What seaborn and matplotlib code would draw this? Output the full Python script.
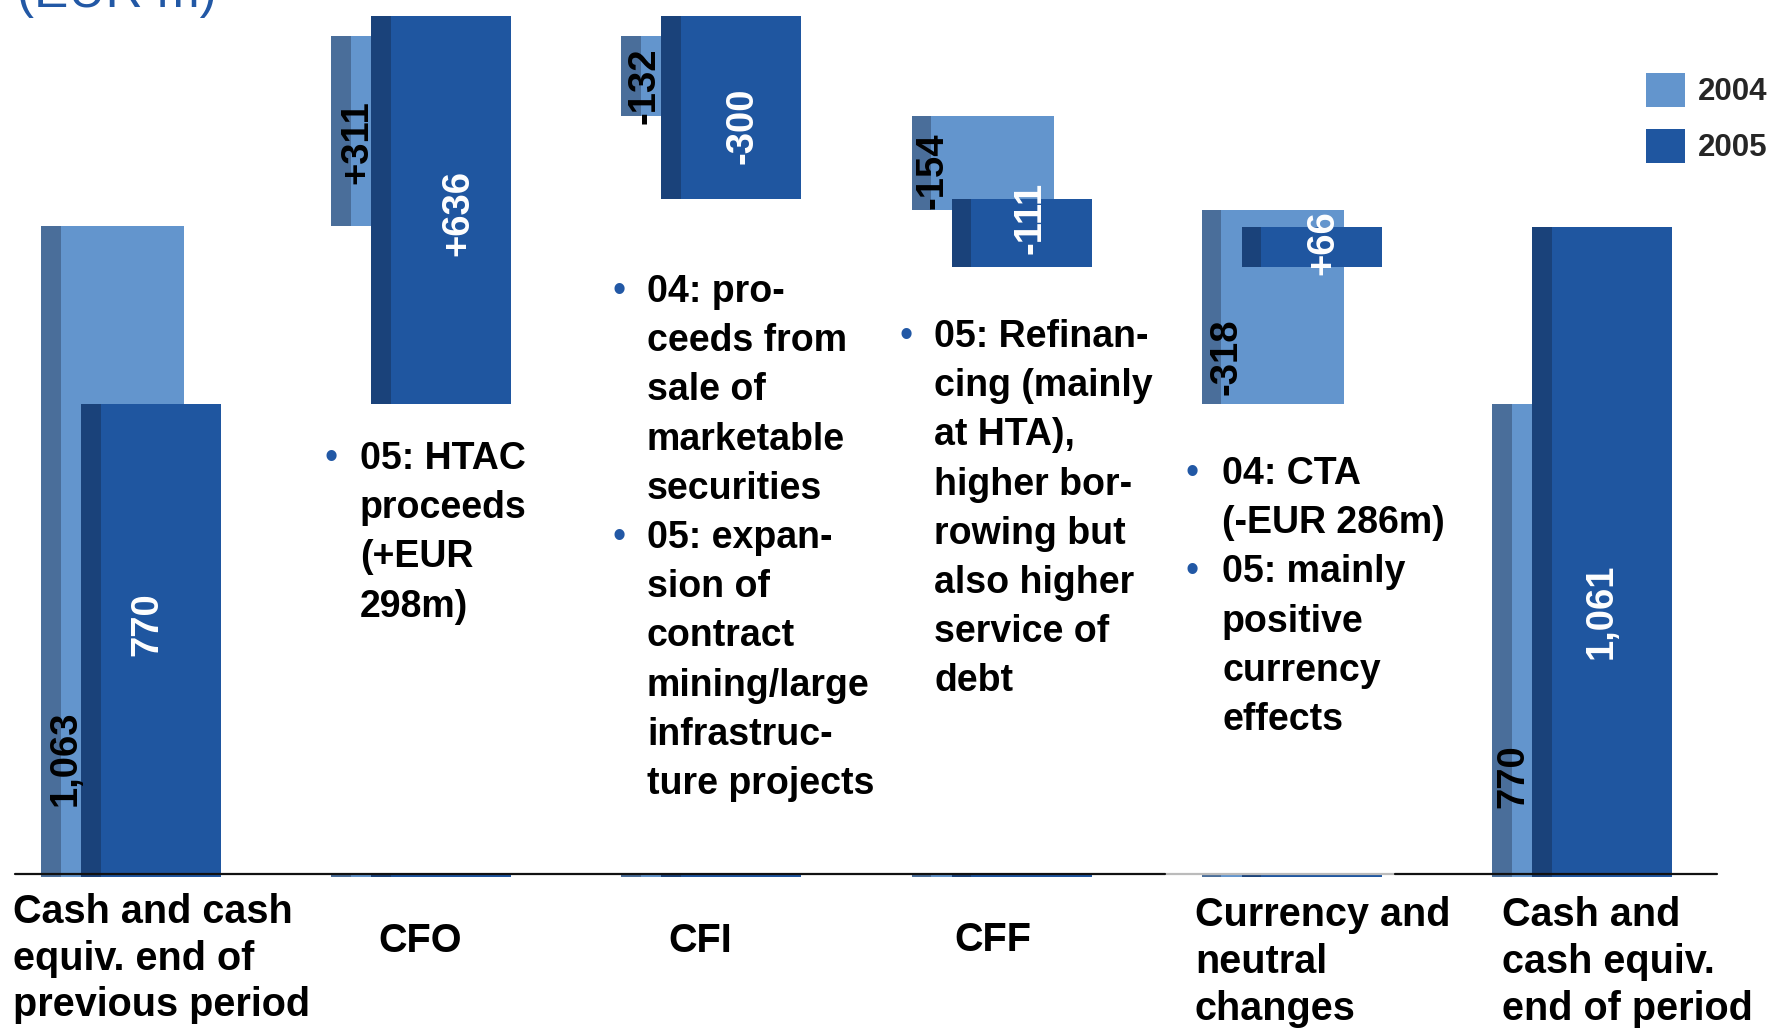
import numpy as np
import pandas as pd
import matplotlib
matplotlib.use("Agg")
import matplotlib.pyplot as plt
import seaborn as sns
from matplotlib.patches import Patch

# %%
# data
categories = ["Cash and cash\nequiv. end of\nprevious period", "CFO", "CFI", "CFF",
              "Currency and\nneutral\nchanges", "Cash and\ncash equiv.\nend of period"]
series = ["2004", "2005"]
vals_2004 = [1063, 311, -132, -154, -318, 770]
vals_2005 = [770, 636, -300, -111, 66, 1061]
labels_2004 = ["1,063", "+311", "-132", "-154", "-318", "770"]
labels_2005 = ["770", "+636", "-300", "-111", "+66", "1,061"]

note_cfo = ["• 05: HTAC", "proceeds", "(+EUR", "298m)"]
note_cfi = ["• 04: pro-", "ceeds from", "sale of", "marketable", "securities",
            "• 05: expan-", "sion of", "contract", "mining/large", "infrastruc-", "ture projects"]
note_cff = ["• 05: Refinan-", "cing (mainly", "at HTA),", "higher bor-", "rowing but",
            "also higher", "service of", "debt"]
note_fx = ["• 04: CTA", "(-EUR 286m)", "• 05: mainly", "positive", "currency", "effects"]

# %%
# layout (pixels of the 1774x1028 picture)
PX_W, PX_H = 1774, 1028
BASE_PX, UNIT_PX = 874, 0.61     # baseline row, pixels per EUR m
LEFT_PX, PITCH_PX = 41, 290.2    # left edge of first group, group pitch

c04, d04 = "#6395CD", "#4A6E9A"
c05, d05 = "#1F56A0", "#1A427A"
blue = "#2258A5"

w04 = 142.5 / PITCH_PX
w05 = 140 / PITCH_PX
off05 = 40 / PITCH_PX
strip = 19.5 / PITCH_PX


def waterfall(vals):
    run = vals[0]
    bottoms = [0]
    for v in vals[1:-1]:
        bottoms.append(run)
        run += v
    bottoms.append(0)
    return bottoms


def px2data(px, py):
    return (px - LEFT_PX) / PITCH_PX, (BASE_PX - py) / UNIT_PX


sns.set_theme(style="white")
plt.rcParams['font.family'] = ['Liberation Sans', 'DejaVu Sans']

fig = plt.figure(figsize=(PX_W / 100, PX_H / 100), dpi=100)
ax = fig.add_axes([0, 0, 1, 1])

idx = np.arange(len(categories))


def draw_bars(left, w, heights, bottoms, color, dark):
    df = pd.DataFrame({"x": left + w / 2, "y": heights})
    sns.barplot(data=df, x="x", y="y", native_scale=True, width=w, color=color,
                saturation=1, errorbar=None, linewidth=0, bottom=bottoms, ax=ax, orient="x")
    df = pd.DataFrame({"x": left + strip / 2, "y": heights})
    sns.barplot(data=df, x="x", y="y", native_scale=True, width=strip, color=dark,
                saturation=1, errorbar=None, linewidth=0, bottom=bottoms, ax=ax, orient="x")


# thin slivers under the base line
sliver = [-4.5] * len(categories)
draw_bars(idx.astype(float), w04, sliver, [0] * len(categories), c04, d04)
draw_bars(idx + off05, w05, sliver, [0] * len(categories), c05, d05)

draw_bars(idx.astype(float), w04, vals_2004, waterfall(vals_2004), c04, d04)
draw_bars(idx + off05, w05, vals_2005, waterfall(vals_2005), c05, d05)

# base line
x0, _ = px2data(15, 0)
xa, _ = px2data(1165, 0)
xb, _ = px2data(1395, 0)
x1, _ = px2data(1717, 0)
ax.plot([x0, xa], [0, 0], color="#111111", lw=1.6, zorder=5)
ax.plot([xa, xb], [0, 0], color="#BBBBBB", lw=1.6, zorder=1)
ax.plot([xb, x1], [0, 0], color="#111111", lw=1.6, zorder=5)

# value labels
lab04_px = [(66, 758), (357, 142), (645, 86), (933, 171), (1227, 357), (1513, 776)]
lab05_px = [(147, 624), (458, 213), (742, 126), (1030, 218), (1323, 243), (1602, 611)]
for txt, (px, py) in zip(labels_2004, lab04_px):
    ax.text(*px2data(px, py), txt, rotation=90, ha="center", va="center",
            fontsize=27.5, fontweight="bold", color="black", zorder=6)
for txt, (px, py) in zip(labels_2005, lab05_px):
    ax.text(*px2data(px, py), txt, rotation=90, ha="center", va="center",
            fontsize=27.5, fontweight="bold", color="white", zorder=6)

ax.set_xlim(-LEFT_PX / PITCH_PX, (PX_W - LEFT_PX) / PITCH_PX)
ax.set_ylim(-(PX_H - BASE_PX) / UNIT_PX, BASE_PX / UNIT_PX)
ax.axis("off")


def fig_xy(px, py):
    return px / PX_W, 1 - py / PX_H


# notes with bullets
note_step = 49.2
for lines, (bx, tx, y0) in zip([note_cfo, note_cfi, note_cff, note_fx],
                               [(331.5, 360, 469), (619, 647, 302), (906, 934.5, 347), (1192.5, 1222, 484)]):
    for k, line in enumerate(lines):
        y = y0 + k * note_step
        if line.startswith("• "):
            fig.text(*fig_xy(bx, y), "•", ha="center", va="baseline", fontsize=27, color=blue)
            line = line[2:]
        fig.text(*fig_xy(tx, y), line, ha="left", va="baseline", fontsize=27,
                 fontweight="bold", color="black")

# category labels
cat_step = 46.7
cat_pos = [(13, "left", 923), (420, "center", 952), (700, "center", 952),
           (993, "center", 951), (1195, "left", 926.5), (1502.5, "left", 926.5)]
for name, (px, ha, y0) in zip(categories, cat_pos):
    for k, line in enumerate(name.split("\n")):
        fig.text(*fig_xy(px, y0 + k * cat_step), line, ha=ha, va="baseline",
                 fontsize=28.5, fontweight="bold", color="black")

# title, cut at the top edge
fig.text(*fig_xy(17, 7.5), "(EUR m)", ha="left", va="baseline", fontsize=37, color=blue)

# legend
fs = 22.5 * 100 / 72
handles = [Patch(facecolor=c04, edgecolor="none"), Patch(facecolor=c05, edgecolor="none")]
ax.legend(handles, series, loc="upper left", bbox_to_anchor=fig_xy(1646, 72.5),
          bbox_transform=fig.transFigure, frameon=False, borderpad=0, borderaxespad=0,
          handlelength=39 / fs, handleheight=1.297, handletextpad=13 / fs,
          labelspacing=22 / fs, prop={"weight": "bold", "size": 22.5})

fig.savefig("out.png", dpi=100)
